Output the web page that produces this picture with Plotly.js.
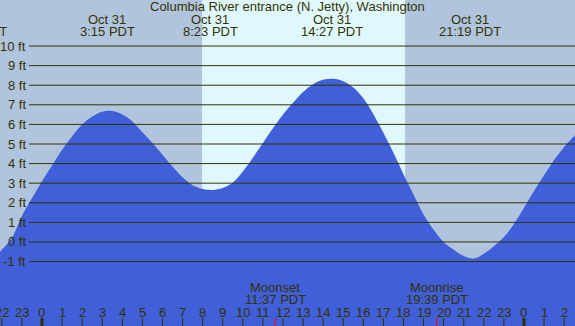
<!DOCTYPE html>
<html>
<head>
<meta charset="utf-8">
<script src="https://cdn.plot.ly/plotly-3.0.1.min.js"></script>
<style>html,body{margin:0;padding:0;background:#b0c4de;}#chart{width:575px;height:326px;}</style>
</head>
<body>
<div id="chart"></div>
<script>
// Tide curve (hours since Oct 31 00:00 PDT, feet)
const tideHours = [-2.09,-2.0,-1.5,-1.0,-0.5,0.0,0.5,1.0,1.5,2.0,2.5,3.0,3.5,4.0,4.5,5.0,5.5,6.0,6.5,7.0,7.5,8.0,8.5,9.0,9.5,10.0,10.5,11.0,11.5,12.0,12.5,13.0,13.5,14.0,14.5,15.0,15.5,16.0,16.5,17.0,17.5,18.0,18.5,19.0,19.5,20.0,20.5,21.0,21.5,22.0,22.5,23.0,23.5,24.0,24.5,25.0,25.5,26.0,26.54];
const tideFeet  = [-0.5,-0.4,0.2,1.33,2.23,3.1,3.9,4.7,5.4,6.0,6.4,6.65,6.68,6.5,6.15,5.6,5.05,4.45,3.85,3.3,2.9,2.7,2.65,2.75,3.03,3.6,4.3,5.05,5.8,6.5,7.1,7.65,8.05,8.28,8.33,8.2,7.88,7.33,6.52,5.57,4.55,3.45,2.42,1.4,0.62,0.0,-0.4,-0.72,-0.85,-0.6,-0.22,0.25,0.92,1.75,2.6,3.4,4.18,4.85,5.45];

// Extremes labels
const extremeHours = [-3.29, 3.25, 8.383, 14.45, 21.317];
const extremeDates = ["Oct 30", "Oct 31", "Oct 31", "Oct 31", "Oct 31"];
const extremeTimes = ["20:43 PDT", "3:15 PDT", "8:23 PDT", "14:27 PDT", "21:19 PDT"];

// Moon events
const moonHours = [11.617, 19.65];
const moonNames = ["Moonset", "Moonrise"];
const moonTimes = ["11:37 PDT", "19:39 PDT"];

// Daylight
const sunrise = 7.97, sunset = 18.08;

// Axes
const yTicks = [-1,0,1,2,3,4,5,6,7,8,9,10];
const yTickLabels = ["-1 ft","0 ft","1 ft","2 ft","3 ft","4 ft","5 ft","6 ft","7 ft","8 ft","9 ft","10 ft"];
const hourTicks = [];
for (let h = -2; h <= 26; h++) hourTicks.push(h);
const hourLabels = hourTicks.map(h => String(((h % 24) + 24) % 24));

const title = "Columbia River entrance (N. Jetty), Washington";

const W = 575, H = 326;
const xRange = [-2.091, 26.54];
const yRange = [-4.29, 12.35];
const textColor = "#333300";
const font = "Liberation Sans, Arial, sans-serif";
const px2paperX = p => p / W;
const px2paperY = p => 1 - p / H; // from top
const hourToPaper = h => (h - xRange[0]) / (xRange[1] - xRange[0]);

const traces = [
  {x: [xRange[0], xRange[1]], y: [yRange[0], yRange[0]], mode: "lines", line: {width: 0}, hoverinfo: "skip", showlegend: false},
  {x: tideHours, y: tideFeet, mode: "lines", line: {shape: "spline", smoothing: 1, color: "#405fd8", width: 0}, fill: "tonexty", fillcolor: "#405fd8", hoverinfo: "skip", showlegend: false}
];

const shapes = [];
const annotations = [];

shapes.push({type: "rect", xref: "x", yref: "paper", x0: sunrise, x1: sunset, y0: 0, y1: 1, fillcolor: "#dff8fe", line: {width: 0}, layer: "below"});

yTicks.forEach((v, i) => {
  shapes.push({type: "line", xref: "paper", yref: "y", x0: px2paperX(29), x1: 1, y0: v, y1: v, line: {color: textColor, width: 1}, layer: "above"});
  annotations.push({xref: "paper", yref: "y", x: px2paperX(27.5), y: v, text: yTickLabels[i], showarrow: false, xanchor: "right", yanchor: "middle", font: {family: font, size: 13, color: textColor}});
});

hourTicks.forEach((h, i) => {
  const midnight = (((h % 24) + 24) % 24) === 0;
  shapes.push({type: "line", xref: "x", yref: "paper", x0: h, x1: h, y0: 0, y1: 8 / H, line: {color: textColor, width: midnight ? 3 : 1}, layer: "above"});
  annotations.push({xref: "x", yref: "paper", x: h, y: px2paperY(312), text: hourLabels[i], showarrow: false, xanchor: "center", yanchor: "middle", font: {family: font, size: 13, color: textColor}});
});

moonHours.forEach((h, i) => {
  shapes.push({type: "line", xref: "x", yref: "paper", x0: h, x1: h, y0: 0, y1: 8 / H, line: {color: "#ff0000", width: 1}, layer: "above"});
  annotations.push({xref: "x", yref: "paper", x: h, y: px2paperY(287), text: moonNames[i], showarrow: false, xanchor: "center", yanchor: "middle", font: {family: font, size: 13, color: textColor}});
  annotations.push({xref: "x", yref: "paper", x: h, y: px2paperY(299.5), text: moonTimes[i], showarrow: false, xanchor: "center", yanchor: "middle", font: {family: font, size: 13, color: textColor}});
});

extremeHours.forEach((h, i) => {
  const xp = hourToPaper(h);
  annotations.push({xref: "paper", yref: "paper", x: xp, y: px2paperY(19), text: extremeDates[i], showarrow: false, xanchor: "center", yanchor: "middle", font: {family: font, size: 13, color: textColor}});
  annotations.push({xref: "paper", yref: "paper", x: xp, y: px2paperY(32), text: extremeTimes[i], showarrow: false, xanchor: "center", yanchor: "middle", font: {family: font, size: 13, color: textColor}});
});

annotations.push({xref: "paper", yref: "paper", x: px2paperX(287), y: px2paperY(7), text: title, showarrow: false, xanchor: "center", yanchor: "middle", font: {family: font, size: 13, color: textColor}});

const layout = {
  width: W, height: H,
  margin: {l: 0, r: 0, t: 0, b: 0, pad: 0},
  paper_bgcolor: "#b0c4de", plot_bgcolor: "#b0c4de",
  xaxis: {range: xRange, showgrid: false, zeroline: false, showticklabels: false, ticks: "", showline: false, fixedrange: true},
  yaxis: {range: yRange, showgrid: false, zeroline: false, showticklabels: false, ticks: "", showline: false, fixedrange: true},
  shapes: shapes, annotations: annotations, showlegend: false
};

Plotly.newPlot("chart", traces, layout, {displayModeBar: false, staticPlot: true});
</script>
</body>
</html>
